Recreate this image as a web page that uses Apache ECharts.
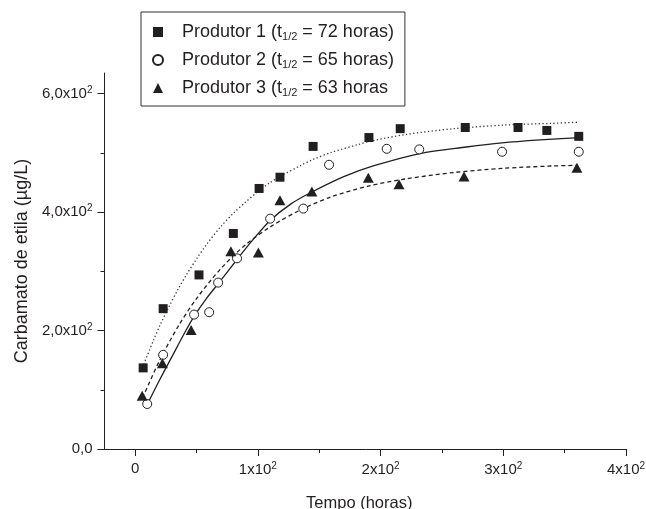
<!DOCTYPE html>
<html>
<head>
<meta charset="utf-8">
<script src="https://cdn.jsdelivr.net/npm/echarts@6/dist/echarts.min.js"></script>
<style>html,body{margin:0;padding:0;background:#fff}#c{width:646px;height:509px}</style>
</head>
<body>
<div id="c"></div>
<script>
// ---- data ----
const seriesNames = ['Produtor 1', 'Produtor 2', 'Produtor 3'];
const legendTexts = [
  'Produtor 1 (t{sub|1/2} = 72 horas)',
  'Produtor 2 (t{sub|1/2} = 65 horas)',
  'Produtor 3 (t{sub|1/2} = 63 horas'
];

const p1X = [6.5, 22.8, 52, 80, 101, 118, 145, 190.5, 216, 269, 312, 335.5, 361.5];
const p1Y = [137, 237, 294, 364, 440, 459, 511, 526, 541, 543, 543, 538, 528];

const p2X = [9.8, 22.8, 48, 60.3, 67.6, 83, 110, 137, 158, 205, 231.5, 299, 361.5];
const p2Y = [76, 159, 227, 231, 281, 322, 389, 406, 480, 507, 506, 502, 502];

const p3X = [5.7, 22.2, 45.6, 78, 100.4, 118, 144, 190, 215, 268, 360];
const p3Y = [90, 145, 201, 334, 332, 420, 435, 458, 447, 460, 475];

// fitted curves
const c1X = [7, 15, 20, 27, 35, 42, 50, 58, 70, 80, 90, 99, 110, 118, 135, 145, 160, 183, 190, 220, 260, 300, 340, 362];
const c1Y = [143, 184, 208, 238, 270, 295, 321, 345, 376, 398, 417, 433, 450, 460, 479, 489, 501, 515, 519, 531, 541, 547, 550, 552];

const c2X = [10, 20, 30, 40, 48, 58, 68, 83, 95, 110, 127, 144, 170, 194, 232, 270, 299, 330, 362];
const c2Y = [76, 117, 156, 195, 224, 254, 280, 320, 351, 386, 414, 434, 460, 478, 499, 510, 517, 522, 526];

const c3X = [6, 20, 35, 50, 70, 90, 110, 135, 160, 190, 220, 260, 300, 340, 360];
const c3Y = [86, 150, 207, 254, 305, 345, 375, 404, 426, 444, 456, 467, 474, 478, 479];

const xTickValues = [0, 100, 200, 300, 400];
const xTickLabels = ['0', '{b|1x10}{s|2}', '{b|2x10}{s|2}', '{b|3x10}{s|2}', '{b|4x10}{s|2}'];
const xMinorTicks = [50, 150, 250, 350];
const yTickValues = [0, 200, 400, 600];
const yTickLabels = ['0,0', '{b|2,0x10}{s|2}', '{b|4,0x10}{s|2}', '{b|6,0x10}{s|2}'];
const yMinorTicks = [100, 300, 500];

const xTitle = 'Tempo (horas)';
const yTitle = 'Carbamato de etila (µg/L)';

// ---- chart ----
const ink = '#231f20';
const font = 'Liberation Sans, Arial, sans-serif';
const zip = (a, b) => a.map((v, i) => [v, b[i]]);
const chart = echarts.init(document.getElementById('c'), null, {renderer: 'canvas'});

const richTick = {
  b: {fontSize: 15, fontFamily: font, color: ink, lineHeight: 17},
  s: {fontSize: 10, fontFamily: font, color: ink, verticalAlign: 'top', lineHeight: 10}
};

const option = {
  animation: false,
  backgroundColor: '#fff',
  textStyle: {fontFamily: font, color: ink},
  grid: {left: 104.5, right: 20, top: 73, bottom: 60, outerBoundsMode: 'none'},
  legend: {
    orient: 'vertical', left: 141, top: 12,
    padding: [10, 11, 8, 11], itemGap: 8, itemWidth: 10, itemHeight: 10,
    borderColor: '#333', borderWidth: 1, borderRadius: 0,
    data: [
      {name: seriesNames[0], icon: 'rect'},
      {name: seriesNames[1], icon: 'circle'},
      {name: seriesNames[2], icon: 'triangle'}
    ],
    formatter: name => '{g|}' + legendTexts[seriesNames.indexOf(name)],
    textStyle: {
      fontSize: 18, fontFamily: font, color: ink, lineHeight: 20,
      rich: {
        g: {width: 14},
        sub: {fontSize: 11, fontFamily: font, color: ink, verticalAlign: 'bottom', lineHeight: 11}
      }
    }
  },
  xAxis: [{
    type: 'value', min: -25, max: 400, gridIndex: 0,
    axisLine: {show: true, onZero: false, lineStyle: {color: ink, width: 1}},
    axisTick: {show: true, customValues: xTickValues, length: 7, lineStyle: {color: ink}},
    axisLabel: {show: true, customValues: xTickValues, margin: 12, fontSize: 15, color: ink,
      formatter: v => xTickLabels[xTickValues.indexOf(v)], rich: richTick},
    splitLine: {show: false},
    name: xTitle, nameLocation: 'middle', nameGap: 46,
    nameTextStyle: {fontSize: 16.5, fontFamily: font, color: ink, padding: [0, 12, 0, 0]}
  }, {
    type: 'value', min: -25, max: 400, gridIndex: 0, position: 'bottom',
    axisLine: {show: false, onZero: false},
    axisTick: {show: true, customValues: xMinorTicks, length: 4, lineStyle: {color: ink}},
    axisLabel: {show: false},
    splitLine: {show: false}
  }],
  yAxis: [{
    type: 'value', min: 0, max: 635, gridIndex: 0,
    axisLine: {show: true, onZero: false, lineStyle: {color: ink, width: 1}},
    axisTick: {show: true, customValues: yTickValues, length: 7, lineStyle: {color: ink}},
    axisLabel: {show: true, customValues: yTickValues, margin: 12, fontSize: 15, color: ink,
      formatter: v => yTickLabels[yTickValues.indexOf(v)], rich: richTick},
    splitLine: {show: false},
    name: yTitle, nameLocation: 'middle', nameGap: 70, nameRotate: 90,
    nameTextStyle: {fontSize: 18, fontFamily: font, color: ink}
  }, {
    type: 'value', min: 0, max: 635, gridIndex: 0, position: 'left',
    axisLine: {show: false, onZero: false},
    axisTick: {show: true, customValues: yMinorTicks, length: 4, lineStyle: {color: ink}},
    axisLabel: {show: false},
    splitLine: {show: false}
  }],
  series: [
    {type: 'line', name: 'c1', data: zip(c1X, c1Y), smooth: 0.3, showSymbol: false, silent: true,
      lineStyle: {color: '#3a3a3a', width: 1.3, type: [1.3, 2.4]}, z: 2},
    {type: 'line', name: 'c2', data: zip(c2X, c2Y), smooth: 0.3, showSymbol: false, silent: true,
      lineStyle: {color: ink, width: 1.3, type: 'solid'}, z: 2},
    {type: 'line', name: 'c3', data: zip(c3X, c3Y), smooth: 0.3, showSymbol: false, silent: true,
      lineStyle: {color: ink, width: 1.3, type: [4, 3]}, z: 2},
    {type: 'scatter', name: seriesNames[0], data: zip(p1X, p1Y), symbol: 'rect', symbolSize: 9,
      itemStyle: {color: ink, opacity: 1}, z: 5},
    {type: 'scatter', name: seriesNames[1], data: zip(p2X, p2Y), symbol: 'circle', symbolSize: 9,
      itemStyle: {color: '#fff', borderColor: ink, borderWidth: 1, opacity: 1}, z: 5},
    {type: 'scatter', name: seriesNames[2], data: zip(p3X, p3Y), symbol: 'triangle', symbolSize: [11, 10],
      itemStyle: {color: ink, opacity: 1}, z: 5}
  ]
};
chart.setOption(option);
</script>
</body>
</html>
